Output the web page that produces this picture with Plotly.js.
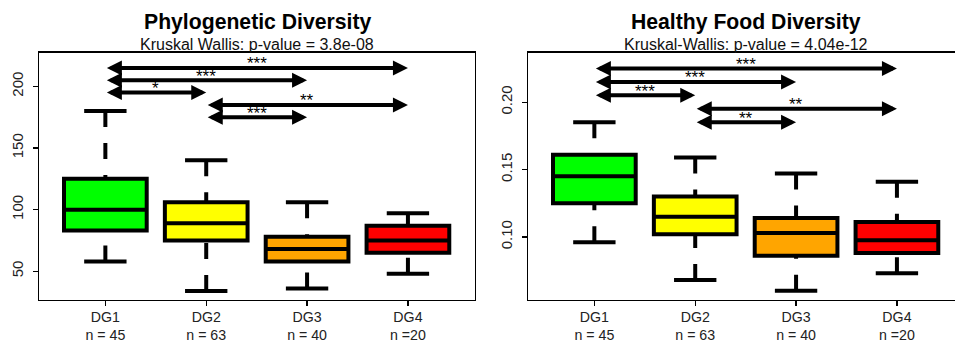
<!DOCTYPE html>
<html><head><meta charset="utf-8">
<script src="https://cdn.plot.ly/plotly-3.0.1.min.js"></script>
<style>html,body{margin:0;padding:0;overflow:hidden;background:#fff}</style>
</head><body><div id="chart"></div>
<script>
const groups = ["DG1","DG2","DG3","DG4"];
const groupN = ["n = 45","n = 63","n = 40","n =20"];
const boxColors = ["#00FF00","#FFFF00","#FFA500","#FF0000"];

// Phylogenetic Diversity box statistics
const pdLower  = [58, 34, 36, 48];
const pdQ1     = [83, 75, 58, 65];
const pdMedian = [100, 89, 68, 75];
const pdQ3     = [125, 106, 78, 87];
const pdUpper  = [180, 140, 106, 97];

// Healthy Food Diversity box statistics
const hfLower  = [0.096, 0.068, 0.060, 0.073];
const hfQ1     = [0.125, 0.102, 0.086, 0.088];
const hfMedian = [0.145, 0.115, 0.103, 0.0975];
const hfQ3     = [0.161, 0.130, 0.114, 0.111];
const hfUpper  = [0.185, 0.159, 0.147, 0.141];

// pairwise comparisons
const cmpFrom = [1, 1, 1, 2, 2];
const cmpTo   = [4, 3, 2, 4, 3];
const pdCmpLevel = [215, 205, 195, 185, 175];
const pdCmpLabel = ["***", "***", "*", "**", "***"];
const hfCmpLevel = [0.225, 0.215, 0.205, 0.195, 0.185];
const hfCmpLabel = ["***", "***", "***", "**", "**"];

const pdTicks = [50, 100, 150, 200];
const pdTickText = ["50", "100", "150", "200"];
const hfTicks = [0.10, 0.15, 0.20];
const hfTickText = ["0.10", "0.15", "0.20"];

const titles = ["Phylogenetic Diversity", "Healthy Food Diversity"];
const subtitles = ["Kruskal Wallis: p-value = 3.8e-08", "Kruskal-Wallis: p-value = 4.04e-12"];

const FONT = "Liberation Sans, Arial, Helvetica, sans-serif";
const W = 964, H = 343;
const LW = 4, BOXW = 0.82, CAPHALF = 0.21;

const xpos = groups.map((g, i) => i + 1);
const xLabels = groups.map((g, i) => g + "<br>" + groupN[i]);

function panelTraces(lower, q1, med, q3, upper, xa, ya) {
  const tr = [];
  xpos.forEach((x, i) => {
    tr.push({
      type: "box", x: [x], q1: [q1[i]], median: [med[i]], q3: [q3[i]],
      lowerfence: [q1[i]], upperfence: [q3[i]], width: BOXW,
      fillcolor: boxColors[i], line: {color: "#000", width: LW},
      boxpoints: false, hoverinfo: "skip", showlegend: false, xaxis: xa, yaxis: ya
    });
  });
  const wx = [], wy = [], cx = [], cy = [];
  xpos.forEach((x, i) => {
    wx.push(x, x, null, x, x, null);
    wy.push(upper[i], q3[i], null, lower[i], q1[i], null);
    cx.push(x - CAPHALF, x + CAPHALF, null, x - CAPHALF, x + CAPHALF, null);
    cy.push(upper[i], upper[i], null, lower[i], lower[i], null);
  });
  tr.push({type: "scatter", mode: "lines", x: wx, y: wy, line: {color: "#000", width: LW, dash: "16px,16px"},
           hoverinfo: "skip", showlegend: false, xaxis: xa, yaxis: ya});
  tr.push({type: "scatter", mode: "lines", x: cx, y: cy, line: {color: "#000", width: LW},
           hoverinfo: "skip", showlegend: false, xaxis: xa, yaxis: ya});
  return tr;
}

const data = [].concat(
  panelTraces(pdLower, pdQ1, pdMedian, pdQ3, pdUpper, "x", "y"),
  panelTraces(hfLower, hfQ1, hfMedian, hfQ3, hfUpper, "x2", "y2")
);

function cmpAnnotations(levels, labels, xr, yr) {
  const out = [];
  cmpFrom.forEach((f, i) => {
    out.push({
      xref: xr, yref: yr, axref: xr, ayref: yr,
      x: cmpTo[i], y: levels[i], ax: f, ay: levels[i],
      text: "", showarrow: true, arrowside: "end+start", arrowhead: 2,
      arrowsize: 0.75, arrowwidth: LW, arrowcolor: "#000", standoff: 0, startstandoff: 0,
      font: {size: 1}
    });
    out.push({
      xref: xr, yref: yr, x: (f + cmpTo[i]) / 2, y: levels[i],
      text: labels[i], showarrow: false, yanchor: "middle", yshift: 4,
      font: {family: FONT, size: 17, color: "#000"}
    });
  });
  return out;
}

const xl = 39.3 / W, xr1 = 475 / W, xl2 = 528.3 / W;
const yb = 1 - 299.5 / H, yt = 1 - 52.5 / H;
const centers = [(39.3 + 475) / 2 / W, (528.3 + W) / 2 / W];

const annotations = [].concat(
  cmpAnnotations(pdCmpLevel, pdCmpLabel, "x", "y"),
  cmpAnnotations(hfCmpLevel, hfCmpLabel, "x2", "y2")
);
titles.forEach((t, i) => {
  annotations.push({xref: "paper", yref: "paper", x: centers[i], y: 1 - 21.6 / H, xanchor: "center", yanchor: "middle",
    text: "<b>" + t + "</b>", showarrow: false, font: {family: FONT, size: 21.2, color: "#000"}});
  annotations.push({xref: "paper", yref: "paper", x: centers[i], y: 1 - 44 / H, xanchor: "center", yanchor: "middle",
    text: subtitles[i], showarrow: false, font: {family: FONT, size: 16, color: "#111"}});
});

function xaxis(domain, anchor) {
  return {domain: domain, anchor: anchor, range: [0.345, 4.665], tickmode: "array", tickvals: xpos, ticktext: xLabels,
    showline: true, mirror: true, linecolor: "#000", linewidth: 1.3, ticks: "outside", ticklen: 5, tickwidth: 1.2,
    tickcolor: "#000", showgrid: false, zeroline: false, ticklabelstandoff: -1,
    tickfont: {family: FONT, size: 14.2, color: "#222"}};
}
function yaxis(anchor, range, tv, tt) {
  return {domain: [yb, yt], anchor: anchor, range: range, tickmode: "array", tickvals: tv, ticktext: tt,
    showline: true, mirror: true, linecolor: "#000", linewidth: 1.3, ticks: "outside", ticklen: 5, tickwidth: 1.2,
    tickcolor: "#000", showgrid: false, zeroline: false, tickangle: -90, ticklabelstandoff: 4,
    tickfont: {family: FONT, size: 15, color: "#222"}};
}

const layout = {
  width: W, height: H, margin: {l: 0, r: 0, t: 0, b: 0},
  paper_bgcolor: "#fff", plot_bgcolor: "#fff", showlegend: false,
  xaxis: xaxis([xl, xr1], "y"), yaxis: yaxis("x", [27.1, 227.5], pdTicks, pdTickText),
  xaxis2: xaxis([xl2, 1], "y2"), yaxis2: yaxis("x2", [0.0536, 0.2368], hfTicks, hfTickText),
  annotations: annotations, boxmode: "overlay"
};

Plotly.newPlot("chart", data, layout, {displayModeBar: false, staticPlot: true, responsive: false});
</script></body></html>
